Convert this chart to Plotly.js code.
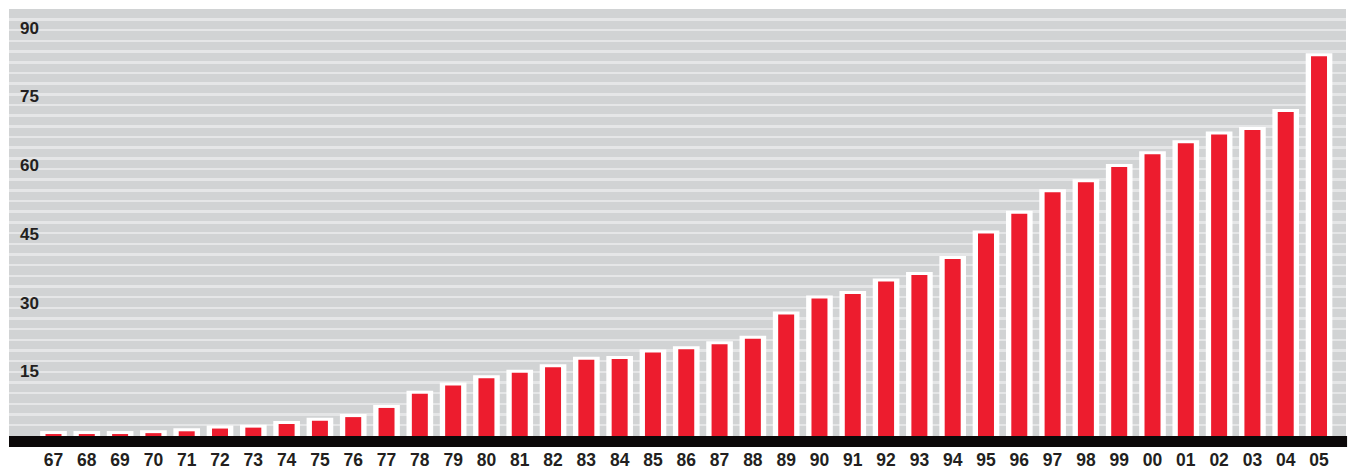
<!DOCTYPE html>
<html>
<head>
<meta charset="utf-8">
<script src="https://cdn.plot.ly/plotly-3.0.1.min.js"></script>
<style>
  html, body { margin: 0; padding: 0; background: #ffffff; }
  #chart { width: 1348px; height: 470px; }
</style>
</head>
<body>
<div id="chart"></div>
<script>
// Year labels (1967–2005)
const years = ["67","68","69","70","71","72","73","74","75","76","77","78","79",
               "80","81","82","83","84","85","86","87","88","89","90","91","92",
               "93","94","95","96","97","98","99","00","01","02","03","04","05"];
// Values
const values = [1.3, 1.3, 1.3, 1.5, 1.9, 2.5, 2.7, 3.5, 4.2, 5.0, 7.0, 10.1, 11.9,
                13.5, 14.7, 15.9, 17.5, 17.7, 19.1, 19.8, 20.9, 22.1, 27.4, 30.9, 31.9, 34.6,
                36.0, 39.5, 45.1, 49.4, 54.1, 56.3, 59.6, 62.4, 64.8, 66.7, 67.7, 71.6, 83.8];
// Y-axis tick labels
const yTicks = [15, 30, 45, 60, 75, 90];

const RED = '#ed1c2e';
const WHITE = '#ffffff';
const BG = '#d1d3d4';
const STRIPE = '#e5e6e7';
const INK = '#231f20';

const traces = [
  {
    type: 'bar', x: years, y: values, width: 0.62,
    marker: { color: WHITE, line: { color: WHITE, width: 6 } },
    hoverinfo: 'skip', showlegend: false
  },
  {
    type: 'bar', x: years, y: values, width: 0.48,
    marker: { color: RED, line: { width: 0 } },
    showlegend: false
  }
];

const layout = {
  width: 1348, height: 470,
  margin: { l: 9, r: 2, t: 9, b: 34, pad: 0 },
  paper_bgcolor: '#ffffff',
  plot_bgcolor: BG,
  barmode: 'overlay',
  showlegend: false,
  font: { family: '"Liberation Sans", Arial, sans-serif', color: INK },
  xaxis: {
    type: 'category',
    range: [-1.336, 38.81],
    showgrid: false, zeroline: false, showline: false,
    ticks: '',
    tickfont: { size: 17.5, color: INK, weight: 'bold' },
    ticklabelstandoff: 11
  },
  yaxis: {
    range: [0.873, 94.1],
    tickvals: yTicks,
    ticktext: yTicks.map(String),
    ticklabelposition: 'inside',
    ticklabelstandoff: 8,
    ticks: '',
    showgrid: false, zeroline: false, showline: false,
    tickfont: { size: 17, color: INK, weight: 'bold' },
    minor: {
      tick0: 0.893, dtick: 2.3308,
      showgrid: true, gridcolor: STRIPE, gridwidth: 2.5, ticks: ''
    }
  },
  shapes: [
    {
      type: 'rect', xref: 'paper', yref: 'paper',
      x0: 0, x1: 1.0008, y0: 0, y1: -11 / 427,
      fillcolor: '#0b0809', line: { width: 0 }, layer: 'above'
    }
  ]
};

Plotly.newPlot('chart', traces, layout, { displayModeBar: false, staticPlot: true });
</script>
</body>
</html>
